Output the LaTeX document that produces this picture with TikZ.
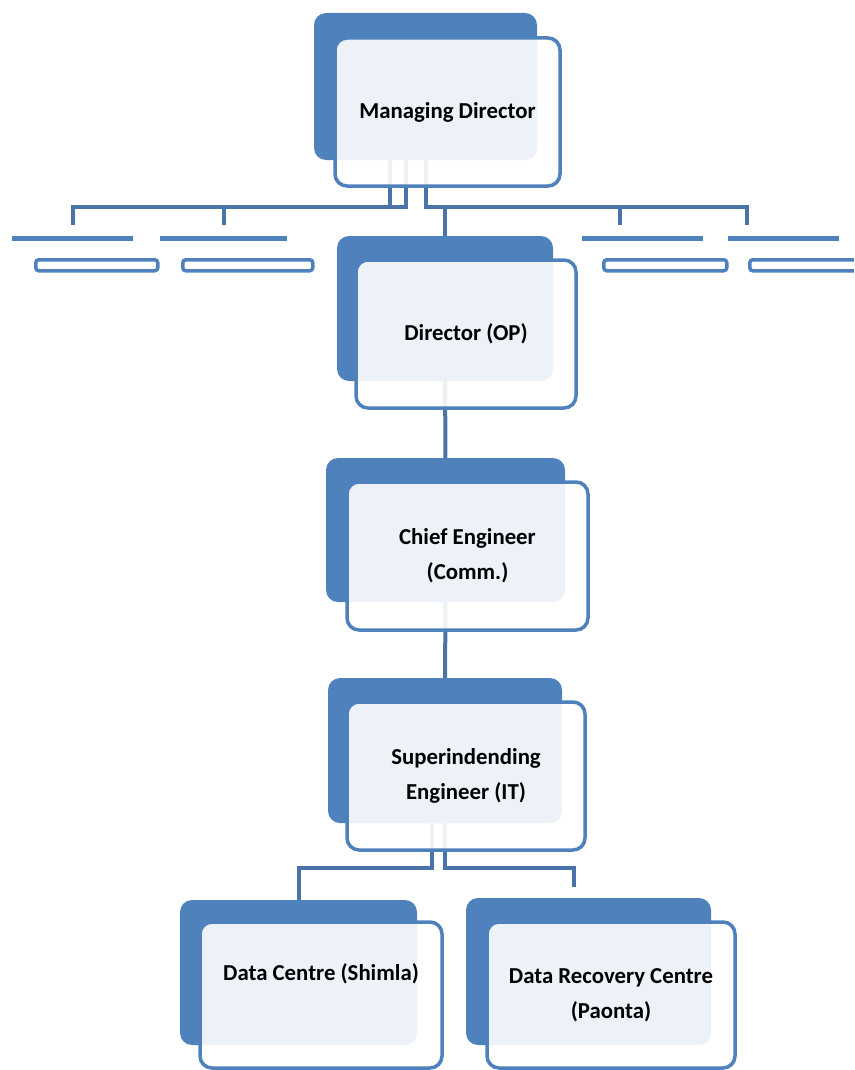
\documentclass[tikz,border=0pt]{standalone}
\usepackage{fontspec}
\setmainfont{Carlito}
\usetikzlibrary{backgrounds}
\definecolor{boxblue}{HTML}{4F81BD}
\definecolor{lineblue}{HTML}{4A73A8}
\tikzset{
  backbox/.style={rectangle,rounded corners=12pt,fill=boxblue,anchor=north west,inner sep=0pt,outer sep=0pt},
  frontbox/.style={rectangle,rounded corners=12pt,draw=boxblue,line width=3.5pt,fill=white,fill opacity=0.9,text opacity=1,
    anchor=north west,inner sep=0pt,outer sep=0pt,align=center,font=\fontsize{22.8}{35}\selectfont\bfseries},
  backbar/.style={rectangle,fill=boxblue,anchor=north west,inner sep=0pt,minimum height=5pt},
  frontbar/.style={rectangle,rounded corners=3pt,draw=boxblue,line width=3.5pt,fill=white,anchor=north west,inner sep=0pt,minimum height=11pt},
  conn/.style={draw=lineblue,line width=4pt}
}
\begin{document}
\begin{tikzpicture}[x=1pt,y=-1pt]
\useasboundingbox (0,0) rectangle (854,1070);
\clip (0,0) rectangle (854,1070);
% boxes
\node[backbox,minimum width=223pt,minimum height=147pt] (mdback) at (314,13) {};
\node[frontbox,minimum width=225pt,minimum height=148pt] (md) at (335,38) {Managing Director};
\node[backbox,minimum width=216pt,minimum height=145pt] (dirback) at (337,236) {};
\node[frontbox,minimum width=220pt,minimum height=148pt] (dir) at (356,260) {Director (OP)};
\node[backbox,minimum width=239pt,minimum height=144pt] (chiefback) at (326,458) {};
\node[frontbox,minimum width=241pt,minimum height=148pt] (chief) at (347,482) {Chief Engineer\\(Comm.)};
\node[backbox,minimum width=234pt,minimum height=145pt] (supback) at (328,678) {};
\node[frontbox,minimum width=238pt,minimum height=148pt] (sup) at (347,702) {Superindending\\Engineer (IT)};
\node[backbox,minimum width=237pt,minimum height=145pt] (dcback) at (180,900) {};
\node[frontbox,minimum width=242pt,minimum height=146pt] (dc) at (200,922) {Data Centre (Shimla)\\\strut};
\node[backbox,minimum width=245pt,minimum height=147pt] (drcback) at (466,898) {};
\node[frontbox,minimum width=248pt,minimum height=146pt] (drc) at (487,922) {Data Recovery Centre\\(Paonta)};
% collapsed boxes
\node[backbar,minimum width=121pt] (s1back) at (12,236) {};
\node[frontbar,minimum width=122pt] (s1) at (34,258) {};
\node[backbar,minimum width=127pt] (s2back) at (160,236) {};
\node[frontbar,minimum width=130pt] (s2) at (181,258) {};
\node[backbar,minimum width=121pt] (s3back) at (582,236) {};
\node[frontbar,minimum width=123pt] (s3) at (602,258) {};
\node[backbar,minimum width=111pt] (s4back) at (728,236) {};
\node[frontbar,minimum width=120pt] (s4) at (748,258) {};
% connectors
\begin{scope}[on background layer]
\coordinate (busY) at (0,207);
\coordinate (s1end) at (73,225);
\coordinate (s2end) at (224,225);
\coordinate (s3end) at (620,225);
\coordinate (s4end) at (747,225);
\coordinate (subY) at (0,868);
\coordinate (drcend) at (574,887);
\draw[conn] ([xshift=-36pt]mdback.center) |- (s1end |- busY) -- (s1end);
\draw[conn] ([xshift=-20pt]mdback.center) |- (s2end |- busY) -- (s2end);
\draw[conn] (mdback.center) |- (s4end |- busY) -- (s4end);
\draw[conn] (s3end |- busY) -- (s3end);
\draw[conn] (dirback.north |- busY) -- ([yshift=-11pt]dirback.north);
\draw[conn] (dirback.center) -- (chiefback.center);
\draw[conn] (chiefback.center) -- (supback.center);
\draw[conn] ([xshift=-13pt]supback.center) |- (dcback.north |- subY) -- ([yshift=-13pt]dcback.north);
\draw[conn] (supback.center) |- (drcend |- subY) -- (drcend);
\end{scope}
\end{tikzpicture}
\end{document}
